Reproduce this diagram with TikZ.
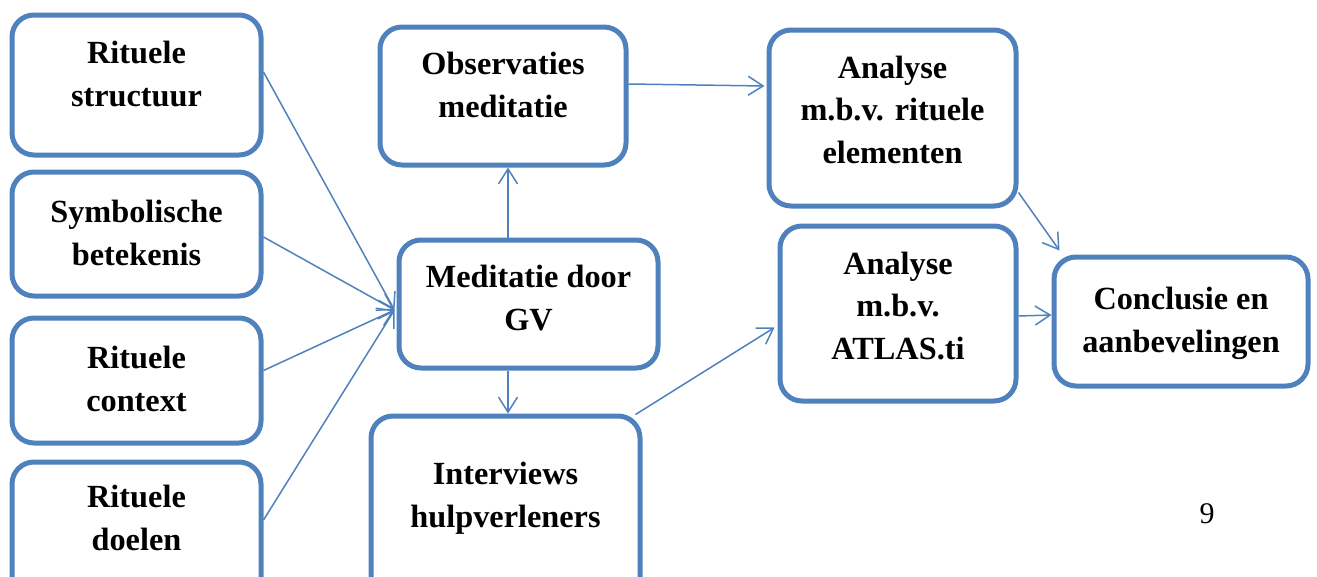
\documentclass[tikz,border=0pt]{standalone}
\usepackage{fontspec}
\setmainfont{Liberation Serif}
\usetikzlibrary{arrows.meta,calc}
\definecolor{boxblue}{RGB}{79,129,189}
\tikzset{
  box/.style={draw=boxblue, line width=5pt, rounded corners=22pt, fill=white,
    inner sep=0pt},
  txt/.style={font=\fontsize{32.3}{42.5}\selectfont\bfseries, align=center,
    anchor=base, inner sep=0pt},
  arr/.style={draw=boxblue, line width=1.5pt,
    -{Straight Barb[length=15pt,width=19pt,line width=1.5pt]}},
}
% box given by its border's left, right, top, bottom (y grows downward)
\newcommand{\flowbox}[5]{%
  \node[box, minimum width={#3-#2}, minimum height={#5-#4}]
    (#1) at ({(#2+#3)/2},{(#4+#5)/2}) {};}
\begin{document}
\begin{tikzpicture}[x=1pt, y=-1pt]
\useasboundingbox (0,0) rectangle (1317,576);
\clip (0,0) rectangle (1317,576);

% left column: ritual aspects
\flowbox{rs}{12}{261}{15}{155}
\flowbox{sb}{12}{261}{172}{296}
\flowbox{rc}{12}{261}{318}{443}
\flowbox{rd}{12}{261}{462}{600}
% middle column: data collection
\flowbox{om}{380}{626}{27}{165}
\flowbox{mg}{399}{658}{240}{368}
\flowbox{ih}{371}{640}{416}{600}
% right columns: analysis and conclusion
\flowbox{ar}{769}{1016}{30}{206}
\flowbox{aa}{780}{1016}{226}{401}
\flowbox{ce}{1054}{1308}{257}{386}

% labels, placed by the baseline of their last line
\node[txt] at (rs.center |- 0,106) {Rituele\\structuur};
\node[txt] at (sb.center |- 0,265) {Symbolische\\betekenis};
\node[txt] at (rc.center |- 0,411) {Rituele\\context};
\node[txt] at (rd.center |- 0,550) {Rituele\\doelen};
\node[txt] at (om.center |- 0,117) {Observaties\\meditatie};
\node[txt] at (mg.center |- 0,330) {Meditatie door\\GV};
\node[txt] at (ih.center |- 0,527) {Interviews\\hulpverleners};
\node[txt] at (ar.center |- 0,163) {Analyse\\m.b.v. rituele\\elementen};
\node[txt] at (aa.center |- 0,359) {Analyse\\m.b.v.\\ATLAS.ti};
\node[txt] at (ce.center |- 0,352) {Conclusie en\\aanbevelingen};

\node[font=\fontsize{30}{36}\selectfont, anchor=base, inner sep=0pt]
  (pg) at (1207,523) {9};

% connectors
\coordinate (hub) at ($(mg.west)+(-2,6)$);
\coordinate (up) at ($(mg.north)+(-20.5,0)$);
\coordinate (down) at ($(mg.south)+(-20.5,0)$);
\draw[arr] ($(rs.east)+(0,-13)$) -- (hub);
\draw[arr] ($(sb.east)+(0,3)$) -- (hub);
\draw[arr] ($(rc.east)+(0,-10)$) -- (hub);
\draw[arr] ($(rd.east)+(0,-11)$) -- (hub);
\draw[arr] (up) -- (up |- om.south);
\draw[arr] (down) -- (down |- ih.north);
\draw[arr] ($(om.east)+(0,-12)$) -- ($(ar.west)+(-2,-32)$);
\draw[arr] ($(ih.north east)+(-7,1)$) -- ($(aa.west)+(-3,14)$);
\draw[arr] ($(ar.south east)+(0,-16)$) -- ($(ce.north west)+(8,-4)$);
\draw[arr] ($(aa.east)+(0,2.5)$) -- ($(ce.west)+(0,-6.5)$);
\end{tikzpicture}
\end{document}
